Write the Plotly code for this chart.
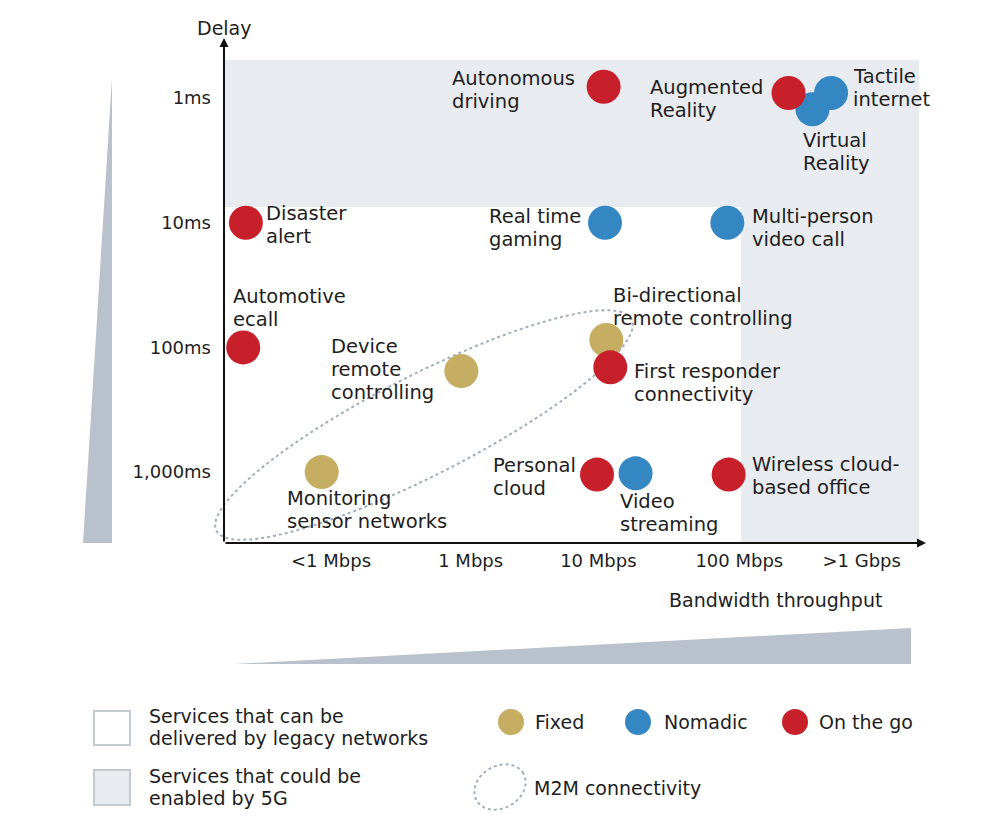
import numpy as np
import plotly.graph_objects as go

# ---------------- data ----------------
services = [
    "Autonomous|driving", "Augmented|Reality", "Tactile|internet", "Virtual|Reality",
    "Disaster|alert", "Real time|gaming", "Multi-person|video call",
    "Automotive|ecall", "Device|remote|controlling", "Bi-directional|remote controlling",
    "First responder|connectivity", "Monitoring|sensor networks", "Personal|cloud",
    "Video|streaming", "Wireless cloud-|based office",
]
bandwidth = [2.05, 3.44, 3.76, 3.62, -0.64, 2.06, 2.98, -0.66, 0.98, 2.07, 2.10, -0.07, 2.00, 2.29, 2.99]
delay = [-0.09, -0.04, -0.04, 0.09, 1.00, 1.00, 1.00, 2.00, 2.19, 1.94, 2.16, 3.00, 3.02, 3.01, 3.02]
mobility = ["On the go", "On the go", "Nomadic", "Nomadic", "On the go", "Nomadic", "Nomadic",
            "On the go", "Fixed", "Fixed", "On the go", "Fixed", "On the go", "Nomadic", "On the go"]

bandwidth_ticks = [0.0, 1.05, 2.01, 3.07, 3.99]
bandwidth_labels = ["<1 Mbps", "1 Mbps", "10 Mbps", "100 Mbps", ">1 Gbps"]
delay_ticks = [0, 1, 2, 3]
delay_labels = ["1ms", "10ms", "100ms", "1,000ms"]

groups = ["Fixed", "Nomadic", "On the go"]
colors = {"Fixed": "#c5ae62", "Nomadic": "#3587c3", "On the go": "#c8202a"}

# label placement (style): left-edge offset and first-line centre offset from the point, pixels
label_style = {
    "Autonomous|driving": (-151, -8),
    "Augmented|Reality": (-138, -6),
    "Tactile|internet": (23, -17),
    "Virtual|Reality": (-8, 31),
    "Disaster|alert": (21, -9),
    "Real time|gaming": (-115, -6),
    "Multi-person|video call": (26, -6),
    "Automotive|ecall": (-9, -51),
    "Device|remote|controlling": (-129, -25),
    "Bi-directional|remote controlling": (8, -44),
    "First responder|connectivity": (25, 4),
    "Monitoring|sensor networks": (-34, 26),
    "Personal|cloud": (-103, -9),
    "Video|streaming": (-15, 28),
    "Wireless cloud-|based office": (24, -10),
}
PAD = 3  # annotation inner padding in pixels

# ---------------- geometry helpers ----------------
OFF = 8                                  # page body margin
W, H = 1000 - 2 * OFF, 826 - 2 * OFF
L, R, T, B = 224, 925, 40, 543          # plot area in screen pixels
X0, XS = 331, 133.0                      # pixel of x=0, pixels per unit
Y0, YS = 98, 124.7                       # pixel of y=0, pixels per unit

def xd(px): return (px - X0) / XS
def yd(py): return (py - Y0) / YS
def xp(px): return (px - L) / (R - L)
def yp(py): return (B - py) / (B - T)

FONT = "DejaVu Sans"
TXT = "#1e1e1e"
GRAY5G = "#e8ebef"
WEDGE = "#b9c2cc"
DOT = "#a3aeba"

fig = go.Figure()

for g in groups:
    idx = [i for i, m in enumerate(mobility) if m == g]
    fig.add_trace(go.Scatter(
        x=[bandwidth[i] for i in idx], y=[delay[i] for i in idx],
        mode="markers", name=g, showlegend=False,
        marker=dict(size=34, color=colors[g], line=dict(width=0)),
        hovertext=[services[i].replace("|", " ") for i in idx], hoverinfo="text",
    ))

def poly(pts, ref="paper"):
    if ref == "paper":
        return "M " + " L ".join(f"{xp(u):.5f},{yp(v):.5f}" for u, v in pts) + " Z"
    return "M " + " L ".join(f"{xd(u):.5f},{yd(v):.5f}" for u, v in pts) + " Z"

def ellipse_pts(cx, cy, a, b, deg, n=121):
    th = np.deg2rad(deg)
    t = np.linspace(0, 2 * np.pi, n)
    ex = cx + a * np.cos(t) * np.cos(th) - b * np.sin(t) * np.sin(th)
    ey = cy - (a * np.cos(t) * np.sin(th) + b * np.sin(t) * np.cos(th))
    return list(zip(ex, ey))

shapes = []
# 5G region (L-shaped)
shapes.append(dict(type="path", xref="x", yref="y", fillcolor=GRAY5G, line=dict(width=0), layer="below",
                   path=poly([(224, 60), (919, 60), (919, 543), (741, 543), (741, 207), (224, 207)], "data")))
# M2M ellipse
shapes.append(dict(type="path", xref="paper", yref="paper", layer="below",
                   path=poly(ellipse_pts(424, 425, 233, 50, 27)),
                   line=dict(color=DOT, width=2, dash="dot")))
# wedges
shapes.append(dict(type="path", xref="paper", yref="paper", fillcolor=WEDGE, line=dict(width=0),
                   path=poly([(83, 543), (112, 543), (112, 78)])))
shapes.append(dict(type="path", xref="paper", yref="paper", fillcolor=WEDGE, line=dict(width=0),
                   path=poly([(234, 664), (911, 664), (911, 628)])))
# legend boxes
shapes.append(dict(type="rect", xref="paper", yref="paper", x0=xp(94), x1=xp(130), y0=yp(711), y1=yp(745),
                   fillcolor="white", line=dict(color="#c3cad2", width=2)))
shapes.append(dict(type="rect", xref="paper", yref="paper", x0=xp(94), x1=xp(130), y0=yp(770), y1=yp(805),
                   fillcolor=GRAY5G, line=dict(color="#c3cad2", width=2)))
for g, cxp in zip(groups, [511, 638, 795]):
    shapes.append(dict(type="circle", xref="paper", yref="paper", x0=xp(cxp - 13), x1=xp(cxp + 13),
                       y0=yp(722 - 13), y1=yp(722 + 13), fillcolor=colors[g], line=dict(width=0)))
shapes.append(dict(type="path", xref="paper", yref="paper",
                   path=poly(ellipse_pts(500, 787, 27, 21, 30)),
                   line=dict(color=DOT, width=2, dash="dot")))

annotations = []

def text_block(x, y, lines, dx, dy, lh, size, xref="x", yref="y"):
    for k, ln in enumerate(lines):
        annotations.append(dict(x=x, y=y, xref=xref, yref=yref, text=ln, showarrow=False,
                                xanchor="left", yanchor="middle", xshift=dx - PAD,
                                yshift=-(dy + k * lh),
                                font=dict(family=FONT, size=size, color=TXT)))

# point labels
for name, x, y in zip(services, bandwidth, delay):
    dx, dy = label_style[name]
    text_block(x, y, name.split("|"), dx, dy, 23, 19.5)

# axes arrows (tail offsets in pixels)
annotations.append(dict(x=xp(926), y=0, xref="paper", yref="paper", ax=-(926 - L), ay=0,
                        axref="pixel", ayref="pixel", text="", showarrow=True,
                        arrowhead=2, arrowsize=0.9, arrowwidth=2, arrowcolor="#111"))
annotations.append(dict(x=0, y=yp(38), xref="paper", yref="paper", ax=0, ay=(B - 38),
                        axref="pixel", ayref="pixel", text="", showarrow=True,
                        arrowhead=2, arrowsize=0.9, arrowwidth=2, arrowcolor="#111"))
annotations.append(dict(x=0, y=yp(28), xref="paper", yref="paper", text="Delay", showarrow=False,
                        xanchor="center", yanchor="middle", font=dict(family=FONT, size=19, color=TXT)))
text_block(xp(670), yp(600), ["Bandwidth throughput"], 0, 0, 22, 19, "paper", "paper")

# legend texts
leg = [
    (150, 716, ["Services that can be", "delivered by legacy networks"]),
    (150, 776, ["Services that could be", "enabled by 5G"]),
    (536, 722, ["Fixed"]), (665, 722, ["Nomadic"]), (820, 722, ["On the go"]),
    (535, 788, ["M2M connectivity"]),
]
for lx, ly, lines in leg:
    text_block(xp(lx), yp(ly), lines, 0, 0, 22, 19, "paper", "paper")

fig.update_layout(
    width=W, height=H, autosize=False,
    margin=dict(l=L - OFF, r=(W + OFF) - R, t=T - OFF, b=(H + OFF) - B, pad=0),
    paper_bgcolor="white", plot_bgcolor="white",
    shapes=shapes, annotations=annotations,
    xaxis=dict(range=[xd(L), xd(R)], showgrid=False, zeroline=False, showline=False,
               tickvals=bandwidth_ticks, ticktext=bandwidth_labels, ticks="",
               ticklabelstandoff=5, tickfont=dict(family=FONT, size=18, color=TXT), fixedrange=True),
    yaxis=dict(range=[yd(B), yd(T)], showgrid=False, zeroline=False, showline=False,
               tickvals=delay_ticks, ticktext=delay_labels, ticks="",
               ticklabelstandoff=12, tickfont=dict(family=FONT, size=18, color=TXT), fixedrange=True),
    showlegend=False,
)

fig.write_html("out.html")
